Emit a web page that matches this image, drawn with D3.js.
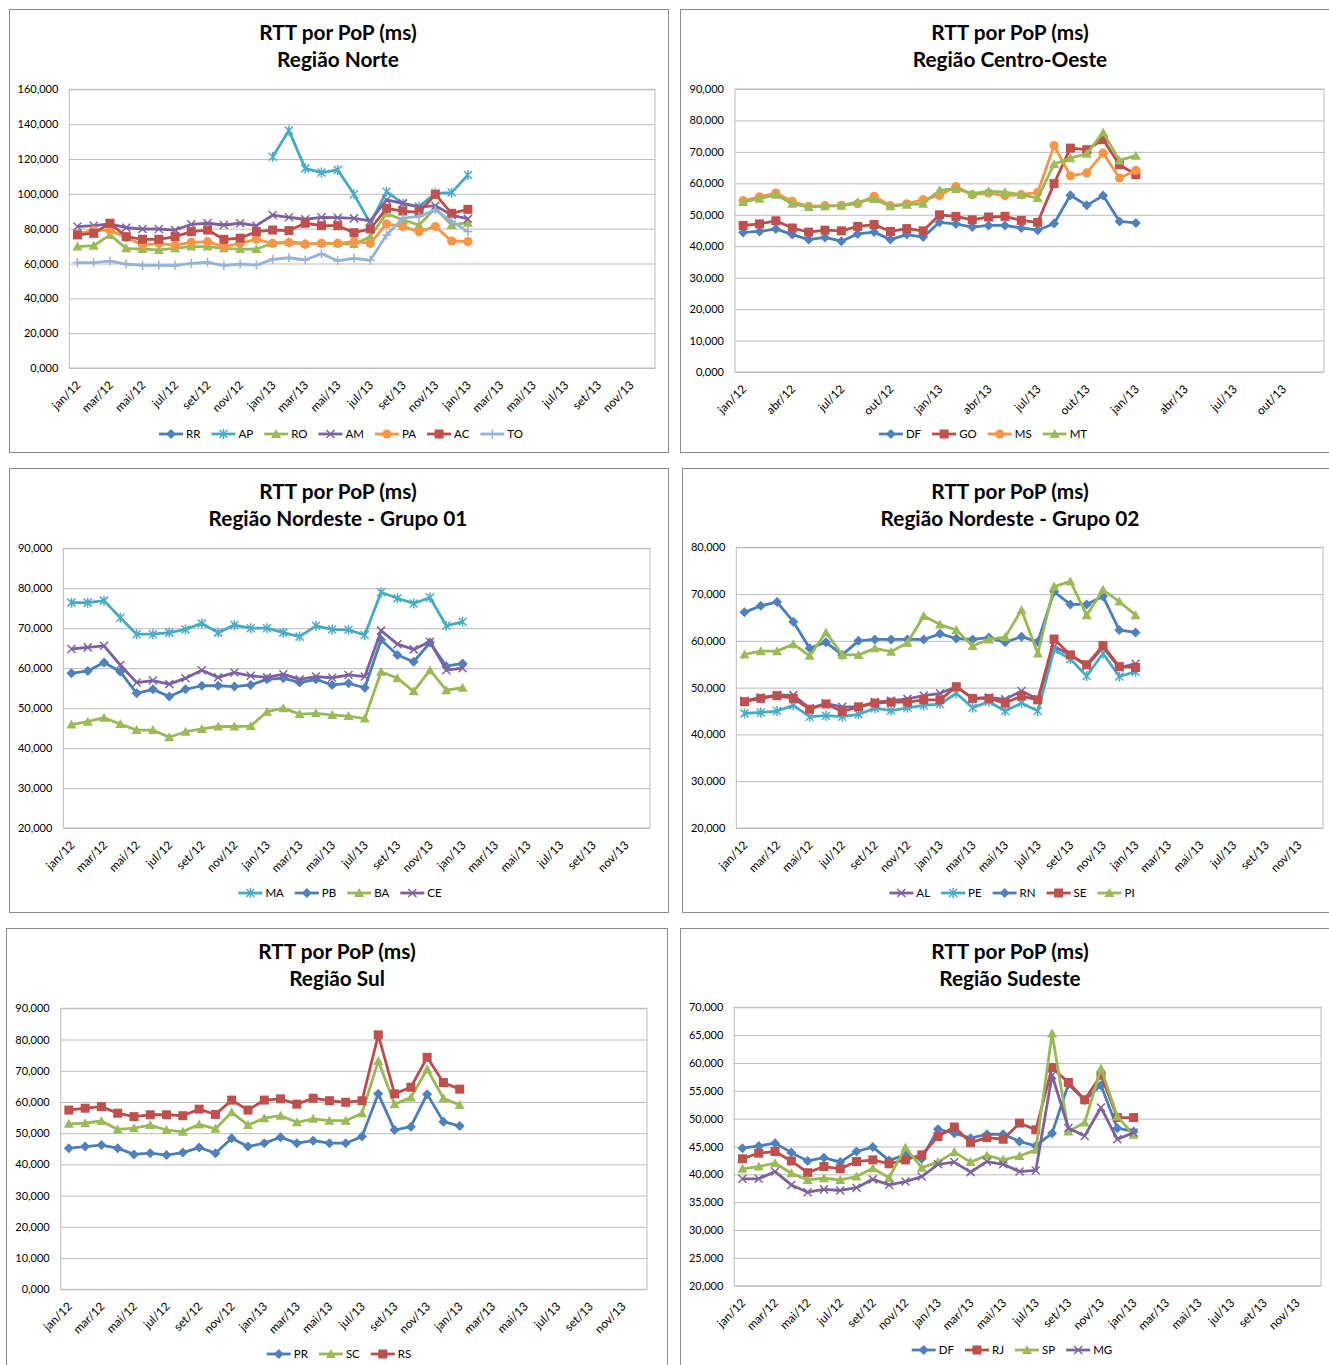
<!DOCTYPE html>
<html>
<head>
<meta charset="utf-8">
<script src="https://cdn.jsdelivr.net/npm/d3@7"></script>
<style>
  body { margin: 0; background: #fff; }
  svg text { font-family: Lato, "Open Sans", "Liberation Sans", sans-serif; fill: #000; }
  .title { font-size: 20.8px; font-weight: bold; }
  .ytick text { font-size: 11px; }
  .xtick text { font-size: 11.8px; }
  .legend text { font-size: 11.5px; }
</style>
</head>
<body>
<script>
// category labels (the source sheet repeats 2013 after dez/13)
var cats12 = ["jan/12", "fev/12", "mar/12", "abr/12", "mai/12", "jun/12", "jul/12", "ago/12", "set/12", "out/12", "nov/12", "dez/12"];
var cats13 = ["jan/13", "fev/13", "mar/13", "abr/13", "mai/13", "jun/13", "jul/13", "ago/13", "set/13", "out/13", "nov/13", "dez/13"];
var categories = cats12.concat(cats13, cats13);

var titleTop = "RTT por PoP (ms)";

// Região Norte
var norteRR = [];
var norteAP = [null, null, null, null, null, null, null, null, null, null, null, null, 121.3, 136.3, 114.6, 112.2, 113.7, 99.7, 83.1, 101.2, 94.5, 92.6, 100.3, 100.7, 110.8];
var norteRO = [69.7, 70.2, 76.4, 68.7, 68.3, 67.8, 68.7, 69.7, 69.7, 68.7, 68.3, 68.3, 71.6, 72.5, 71.6, 71.6, 71.6, 71.0, 75.4, 88.8, 85.0, 82.1, 91.7, 82.1, 83.4];
var norteAM = [81.2, 81.7, 82.7, 80.6, 79.8, 79.8, 79.2, 82.5, 83.1, 82.1, 83.1, 81.7, 87.8, 86.5, 85.4, 86.5, 86.3, 85.9, 84.4, 96.5, 94.5, 92.3, 93.2, 87.8, 85.6];
var nortePA = [77.0, 79.0, 79.0, 75.0, 70.6, 71.6, 70.6, 72.1, 72.5, 69.7, 71.6, 73.9, 71.6, 72.0, 71.0, 71.6, 71.6, 72.5, 71.6, 82.7, 81.2, 78.3, 81.2, 72.9, 72.5];
var norteAC = [76.4, 77.3, 83.1, 75.4, 73.9, 73.9, 75.4, 78.3, 79.2, 73.9, 74.5, 78.3, 79.2, 78.9, 83.1, 81.7, 81.7, 77.7, 79.8, 91.7, 90.1, 89.4, 99.7, 88.8, 91.1];
var norteTO = [60.5, 60.5, 61.4, 59.7, 58.9, 58.9, 58.8, 60.1, 60.7, 58.8, 59.7, 59.1, 62.4, 63.3, 62.0, 65.6, 61.6, 63.0, 61.8, 76.4, 86.0, 87.0, 90.8, 84.2, 78.3];

// Região Centro-Oeste
var coDF = [44.4, 44.7, 45.5, 43.7, 42.1, 42.8, 41.6, 43.9, 44.5, 42.1, 43.7, 42.9, 47.6, 47.1, 46.1, 46.6, 46.6, 45.8, 45.1, 47.2, 56.2, 53.0, 56.1, 47.9, 47.4];
var coGO = [46.6, 47.1, 48.1, 45.8, 44.5, 45.1, 44.9, 46.3, 46.9, 44.7, 45.6, 44.9, 50.0, 49.5, 48.4, 49.3, 49.5, 48.2, 47.6, 59.9, 71.2, 70.7, 73.9, 65.9, 62.8];
var coMS = [54.5, 55.7, 56.9, 54.3, 52.7, 52.9, 53.0, 53.5, 55.9, 52.9, 53.5, 54.8, 56.1, 59.0, 56.4, 56.9, 56.1, 56.4, 57.1, 72.0, 62.4, 63.3, 69.6, 61.7, 64.1];
var coMT = [54.1, 55.1, 56.4, 53.5, 52.5, 52.7, 52.9, 54.1, 55.0, 52.7, 53.2, 53.5, 57.8, 58.2, 56.7, 57.5, 57.2, 56.4, 55.3, 66.1, 68.0, 69.4, 76.2, 67.3, 68.8];

// Região Nordeste - Grupo 01
var ne1MA = [76.4, 76.4, 76.9, 72.6, 68.5, 68.5, 68.9, 69.7, 71.2, 68.9, 70.8, 70.0, 70.0, 68.9, 67.9, 70.6, 69.7, 69.6, 68.3, 79.0, 77.5, 76.2, 77.7, 70.6, 71.6];
var ne1PB = [58.7, 59.3, 61.4, 59.1, 53.7, 54.7, 52.9, 54.7, 55.6, 55.6, 55.4, 55.8, 57.2, 57.5, 56.4, 57.2, 55.8, 56.2, 55.1, 67.1, 63.3, 61.6, 66.4, 60.5, 61.2];
var ne1BA = [45.9, 46.6, 47.6, 46.0, 44.5, 44.5, 42.7, 44.1, 44.8, 45.4, 45.4, 45.5, 49.1, 50.0, 48.5, 48.7, 48.3, 48.0, 47.4, 59.1, 57.5, 54.2, 59.5, 54.5, 55.1];
var ne1CE = [64.8, 65.2, 65.6, 60.8, 56.4, 56.9, 56.0, 57.5, 59.5, 57.7, 58.9, 58.1, 57.7, 58.5, 57.2, 57.9, 57.6, 58.3, 57.9, 69.4, 66.0, 64.7, 66.6, 59.5, 60.0];

// Região Nordeste - Grupo 02
var ne2AL = [47.2, 47.9, 48.4, 48.4, 45.6, 46.6, 45.9, 45.9, 46.9, 47.2, 47.6, 48.3, 48.8, 50.2, 47.7, 47.9, 47.5, 49.3, 47.5, 58.8, 57.0, 54.6, 58.6, 54.3, 55.1];
var ne2PE = [44.5, 44.7, 45.0, 46.2, 43.8, 44.0, 43.8, 44.3, 45.6, 45.1, 45.7, 46.2, 46.5, 48.8, 45.7, 47.0, 45.0, 46.7, 45.0, 58.1, 56.1, 52.5, 57.3, 52.4, 53.4];
var ne2RN = [66.1, 67.5, 68.3, 64.1, 58.4, 59.7, 57.0, 60.0, 60.3, 60.3, 60.3, 60.3, 61.5, 60.5, 60.3, 60.7, 59.7, 60.9, 59.8, 70.5, 67.8, 67.8, 69.5, 62.3, 61.8];
var ne2SE = [47.0, 47.7, 48.3, 47.7, 45.4, 46.5, 44.9, 45.9, 46.7, 46.9, 46.9, 47.4, 47.4, 50.2, 47.7, 47.7, 46.7, 48.2, 47.4, 60.4, 57.0, 54.9, 59.0, 54.5, 54.3];
var ne2PI = [57.1, 57.8, 57.8, 59.3, 56.8, 61.8, 57.0, 57.0, 58.4, 57.7, 59.6, 65.3, 63.5, 62.3, 58.9, 60.3, 60.8, 66.6, 57.3, 71.6, 72.7, 65.5, 70.9, 68.4, 65.5];

// Região Sul
var sulPR = [45.2, 45.7, 46.2, 45.2, 43.2, 43.6, 43.0, 43.8, 45.4, 43.6, 48.4, 45.7, 46.8, 48.7, 46.8, 47.6, 46.8, 46.8, 48.9, 62.6, 51.0, 52.1, 62.5, 53.7, 52.3];
var sulSC = [53.0, 53.2, 53.9, 51.2, 51.6, 52.6, 51.0, 50.5, 52.8, 51.4, 56.7, 52.6, 54.8, 55.6, 53.5, 54.6, 54.0, 54.0, 56.4, 73.1, 59.3, 61.4, 70.5, 61.2, 59.0];
var sulRS = [57.4, 58.0, 58.5, 56.4, 55.3, 55.9, 55.9, 55.6, 57.7, 56.0, 60.6, 57.4, 60.6, 61.0, 59.3, 61.2, 60.4, 59.9, 60.4, 81.5, 62.6, 64.7, 74.3, 66.2, 64.1];

// Região Sudeste
var seDF = [44.7, 45.1, 45.6, 43.9, 42.4, 43.0, 42.2, 44.1, 44.9, 42.5, 43.5, 42.8, 48.1, 47.4, 46.5, 47.2, 47.2, 45.9, 45.1, 47.4, 56.2, 53.3, 56.0, 48.3, 47.7];
var seRJ = [42.8, 43.8, 44.1, 42.4, 40.3, 41.4, 41.0, 42.3, 42.6, 41.9, 42.6, 43.5, 46.8, 48.5, 45.7, 46.6, 46.3, 49.2, 48.0, 59.2, 56.5, 53.4, 57.8, 50.2, 50.2];
var seSP = [41.0, 41.4, 42.0, 40.2, 39.0, 39.3, 39.0, 39.6, 41.1, 39.4, 44.8, 41.2, 42.2, 44.0, 42.2, 43.4, 42.6, 43.3, 44.4, 65.3, 47.7, 49.3, 59.0, 50.4, 47.1];
var seMG = [39.2, 39.2, 40.5, 38.1, 36.8, 37.3, 37.1, 37.6, 39.1, 38.1, 38.7, 39.6, 41.8, 42.2, 40.4, 42.3, 41.8, 40.5, 40.7, 57.8, 48.3, 46.9, 52.0, 46.3, 47.5];

// Excel 2010 default palette
var colors = {
  blue:   { line: "#4A7EBB", fill: "#4F81BD" },
  red:    { line: "#BE4B48", fill: "#C0504D" },
  green:  { line: "#98B954", fill: "#9BBB59" },
  purple: { line: "#7D60A0", fill: "#8064A2" },
  teal:   { line: "#46AAC5", fill: "#4BACC6" },
  orange: { line: "#F79646", fill: "#F79646" },
  light:  { line: "#95B3D7", fill: "#95B3D7" }
};

var panels = [
  { title: "Região Norte", box: [9, 9, 659, 443], plot: [69.3, 89.3, 655, 368], domain: [0, 160], step: 20, every: 2,
    legendX: 341, legendY: 434, titleX: 338, titleY: 33,
    series: [
      { name: "RR", data: norteRR, marker: "diamond", color: "blue" },
      { name: "AP", data: norteAP, marker: "asterisk", color: "teal" },
      { name: "RO", data: norteRO, marker: "triangle", color: "green" },
      { name: "AM", data: norteAM, marker: "x", color: "purple" },
      { name: "PA", data: nortePA, marker: "circle", color: "orange" },
      { name: "AC", data: norteAC, marker: "square", color: "red" },
      { name: "TO", data: norteTO, marker: "plus", color: "light" }
    ] },
  { title: "Região Centro-Oeste", box: [680, 9, 700, 443], plot: [735, 89, 1324, 372], domain: [0, 90], step: 10, every: 3,
    legendX: 983, legendY: 434, titleX: 1010, titleY: 33,
    series: [
      { name: "DF", data: coDF, marker: "diamond", color: "blue" },
      { name: "GO", data: coGO, marker: "square", color: "red" },
      { name: "MS", data: coMS, marker: "circle", color: "orange" },
      { name: "MT", data: coMT, marker: "triangle", color: "green" }
    ] },
  { title: "Região Nordeste - Grupo 01", box: [9, 468, 659, 444], plot: [63.3, 548.3, 650, 828], domain: [20, 90], step: 10, every: 2,
    legendX: 340, legendY: 893, titleX: 338, titleY: 492,
    series: [
      { name: "MA", data: ne1MA, marker: "asterisk", color: "teal" },
      { name: "PB", data: ne1PB, marker: "diamond", color: "blue" },
      { name: "BA", data: ne1BA, marker: "triangle", color: "green" },
      { name: "CE", data: ne1CE, marker: "x", color: "purple" }
    ] },
  { title: "Região Nordeste - Grupo 02", box: [682, 468, 700, 444], plot: [736.3, 547.3, 1323, 828], domain: [20, 80], step: 10, every: 2,
    legendX: 1012, legendY: 893, titleX: 1010, titleY: 492,
    series: [
      { name: "AL", data: ne2AL, marker: "x", color: "purple" },
      { name: "PE", data: ne2PE, marker: "asterisk", color: "teal" },
      { name: "RN", data: ne2RN, marker: "diamond", color: "blue" },
      { name: "SE", data: ne2SE, marker: "square", color: "red" },
      { name: "PI", data: ne2PI, marker: "triangle", color: "green" }
    ] },
  { title: "Região Sul", box: [6, 928, 661, 500], plot: [60.7, 1008.3, 647, 1289.3], domain: [0, 90], step: 10, every: 2,
    legendX: 339, legendY: 1354, titleX: 337, titleY: 952,
    series: [
      { name: "PR", data: sulPR, marker: "diamond", color: "blue" },
      { name: "SC", data: sulSC, marker: "triangle", color: "green" },
      { name: "RS", data: sulRS, marker: "square", color: "red" }
    ] },
  { title: "Região Sudeste", box: [680, 928, 700, 500], plot: [734.3, 1007.3, 1321, 1285.7], domain: [20, 70], step: 5, every: 2,
    legendX: 1012, legendY: 1350, titleX: 1010, titleY: 952,
    series: [
      { name: "DF", data: seDF, marker: "diamond", color: "blue" },
      { name: "RJ", data: seRJ, marker: "square", color: "red" },
      { name: "SP", data: seSP, marker: "triangle", color: "green" },
      { name: "MG", data: seMG, marker: "x", color: "purple" }
    ] }
];

var fmt = d3.formatLocale({ decimal: ",", thousands: ".", grouping: [3], currency: ["R$", ""] }).format(",.3f");

var svg = d3.select("body").append("svg")
  .attr("width", 1329)
  .attr("height", 1365);

// draw one marker of the given type into a selection
function addMarker(sel, type, c) {
  var col = colors[c];
  if (type === "diamond") {
    sel.append("path").attr("d", "M0,-5L5,0L0,5L-5,0Z").attr("fill", col.fill);
  } else if (type === "square") {
    sel.append("rect").attr("x", -4.5).attr("y", -4.5).attr("width", 9).attr("height", 9).attr("fill", col.fill);
  } else if (type === "triangle") {
    sel.append("path").attr("d", "M0,-5L5,4L-5,4Z").attr("fill", col.fill);
  } else if (type === "circle") {
    sel.append("circle").attr("r", 4.6).attr("fill", col.fill);
  } else if (type === "x") {
    sel.append("path").attr("d", "M-4,-4L4,4M-4,4L4,-4").attr("stroke", col.fill).attr("stroke-width", 1.5).attr("fill", "none");
  } else if (type === "asterisk") {
    sel.append("path").attr("d", "M-4,-4L4,4M-4,4L4,-4M0,-5V5").attr("stroke", col.fill).attr("stroke-width", 1.5).attr("fill", "none");
  } else if (type === "plus") {
    sel.append("path").attr("d", "M-4.5,0H4.5M0,-4.5V4.5").attr("stroke", col.fill).attr("stroke-width", 1.5).attr("fill", "none");
  }
}

function drawPanel(p) {
  var g = svg.append("g");
  var x0 = p.plot[0], y0 = p.plot[1], x1 = p.plot[2], y1 = p.plot[3];

  // chart area border
  g.append("rect")
    .attr("x", p.box[0] + 0.5).attr("y", p.box[1] + 0.5)
    .attr("width", p.box[2]).attr("height", p.box[3])
    .attr("fill", "#fff").attr("stroke", "#8c8c8c");

  // title
  g.append("text").attr("class", "title").attr("x", p.titleX).attr("y", p.titleY)
    .attr("text-anchor", "middle").attr("dy", "0.35em").text(titleTop);
  g.append("text").attr("class", "title").attr("x", p.titleX).attr("y", p.titleY + 27)
    .attr("text-anchor", "middle").attr("dy", "0.35em").text(p.title);

  var x = d3.scaleBand().domain(d3.range(categories.length)).range([x0, x1]);
  var y = d3.scaleLinear().domain(p.domain).range([y1, y0]);
  var cx = function(i) { return x(i) + x.bandwidth() / 2; };

  // y axis + gridlines
  var yTicks = d3.range(p.domain[0], p.domain[1] + p.step / 2, p.step);
  var yAxis = g.append("g").attr("class", "ytick")
    .attr("transform", "translate(" + x0 + ",0)")
    .call(d3.axisLeft(y).tickValues(yTicks).tickFormat(fmt).tickSize(-(x1 - x0)).tickPadding(11));
  yAxis.select(".domain").remove();
  yAxis.selectAll("line").attr("stroke", "#bcbcbc");
  yAxis.selectAll("text").attr("fill", "#000");

  // plot area border
  g.append("rect").attr("x", x0).attr("y", y0).attr("width", x1 - x0).attr("height", y1 - y0)
    .attr("fill", "none").attr("stroke", "#bcbcbc");

  // x axis labels, rotated
  var xTicks = d3.range(0, categories.length, p.every);
  var xAxis = g.append("g").attr("class", "xtick")
    .attr("transform", "translate(0," + y1 + ")")
    .call(d3.axisBottom(x).tickValues(xTicks).tickFormat(function(i) { return categories[i]; }).tickSize(0));
  xAxis.select(".domain").remove();
  xAxis.selectAll("text")
    .attr("x", 0).attr("y", 0).attr("dy", "0.35em")
    .attr("text-anchor", "end")
    .attr("transform", "translate(1,15) rotate(-45)")
    .attr("fill", "#000");

  // series
  var line = d3.line()
    .defined(function(d) { return d != null; })
    .x(function(d, i) { return cx(i); })
    .y(function(d) { return y(d); });

  p.series.forEach(function(s) {
    var sg = g.append("g");
    sg.append("path").datum(s.data)
      .attr("d", line)
      .attr("fill", "none")
      .attr("stroke", colors[s.color].line)
      .attr("stroke-width", 2.8)
      .attr("stroke-linejoin", "round");
    s.data.forEach(function(v, i) {
      if (v == null) return;
      var m = sg.append("g").attr("transform", "translate(" + cx(i) + "," + y(v) + ")");
      addMarker(m, s.marker, s.color);
    });
  });

  // legend
  var lg = g.append("g").attr("class", "legend");
  var pos = 0;
  p.series.forEach(function(s) {
    var item = lg.append("g").attr("transform", "translate(" + pos + ",0)");
    item.append("line").attr("x1", 0).attr("x2", 24).attr("y1", 0).attr("y2", 0)
      .attr("stroke", colors[s.color].line).attr("stroke-width", 2.8);
    addMarker(item.append("g").attr("transform", "translate(12,0)"), s.marker, s.color);
    var t = item.append("text").attr("x", 27).attr("y", 0).attr("dy", "0.35em").text(s.name);
    pos += 27 + t.node().getComputedTextLength() + 11;
  });
  pos -= 11;
  lg.attr("transform", "translate(" + (p.legendX - pos / 2) + "," + p.legendY + ")");
}

panels.forEach(drawPanel);
</script>
</body>
</html>
